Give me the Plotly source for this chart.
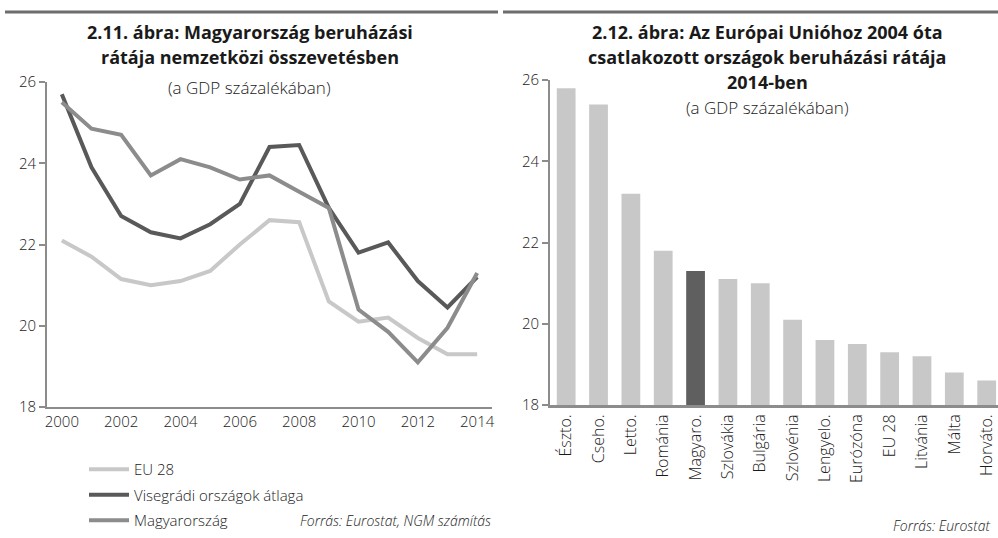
import plotly.graph_objects as go

W, H = 998, 538

years = list(range(2000, 2015))
eu28 = [22.1, 21.7, 21.15, 21.0, 21.1, 21.35, 22.0, 22.6, 22.55, 20.6, 20.1, 20.2, 19.7, 19.3, 19.3]
visegrad = [25.7, 23.9, 22.7, 22.3, 22.15, 22.5, 23.0, 24.4, 24.45, 22.9, 21.8, 22.05, 21.1, 20.45, 21.2]
hungary = [25.5, 24.85, 24.7, 23.7, 24.1, 23.9, 23.6, 23.7, 23.3, 22.9, 20.4, 19.85, 19.1, 19.95, 21.3]

countries = ["Észto.", "Cseho.", "Letto.", "Románia", "Magyaro.", "Szlovákia", "Bulgária",
             "Szlovénia", "Lengyelo.", "Eurózóna", "EU 28", "Litvánia", "Málta", "Horváto."]
rates_2014 = [25.8, 25.4, 23.2, 21.8, 21.3, 21.1, 21.0, 20.1, 19.6, 19.5, 19.3, 19.2, 18.8, 18.6]

year_ticks = [2000, 2002, 2004, 2006, 2008, 2010, 2012, 2014]
y_ticks = [18, 20, 22, 24, 26]

FONT = "Open Sans"
AX = "#8c8c8c"
TXT = "#1a1a1a"

def px_x(p):
    return p / W

def px_y(p):
    return 1 - p / H

fig = go.Figure()

line_styles = [("EU 28", eu28, "#c8c8c8"),
               ("Visegrádi országok átlaga", visegrad, "#595959"),
               ("Magyarország", hungary, "#8c8c8c")]
for i, (name, vals, col) in enumerate(line_styles):
    fig.add_trace(go.Scatter(x=years, y=vals, name=name, mode="lines",
                             line=dict(color=col, width=4), legendgroup=str(i),
                             xaxis="x", yaxis="y"))

bar_colors = ["#5f5f5f" if c == "Magyaro." else "#c8c8c8" for c in countries]
fig.add_trace(go.Bar(x=countries, y=rates_2014, marker=dict(color=bar_colors, line=dict(width=0)),
                     showlegend=False, xaxis="x2", yaxis="y2"))

tickfont = dict(size=15, family=FONT, color=TXT, weight=300)

fig.update_layout(
    width=W, height=H, autosize=False,
    margin=dict(l=0, r=0, t=0, b=0, autoexpand=False),
    paper_bgcolor="white", plot_bgcolor="white",
    font=dict(family=FONT, color=TXT),
    bargap=0.42,
    xaxis=dict(domain=[px_x(47), px_x(492)], range=[1999.5, 2014.5], tickvals=year_ticks,
               showgrid=False, zeroline=False, showline=True, linecolor=AX, linewidth=2,
               ticks="", tickfont=tickfont, anchor="y", automargin=False),
    yaxis=dict(domain=[px_y(407), px_y(82)], range=[18, 26], tickvals=y_ticks,
               showgrid=False, zeroline=False, showline=True, linecolor=AX, linewidth=2,
               ticks="outside", ticklen=6, tickcolor=AX, tickwidth=2,
               tickfont=tickfont, anchor="x", automargin=False),
    xaxis2=dict(domain=[px_x(550), 1.0], range=[-0.5, 13.35], type="category",
                showgrid=False, zeroline=False, showline=True, linecolor=AX, linewidth=3,
                ticks="", tickangle=-90, tickfont=dict(size=16, family=FONT, color=TXT, weight=300),
                anchor="y2", automargin=False),
    yaxis2=dict(domain=[px_y(405), px_y(80)], range=[18, 26], tickvals=y_ticks,
                showgrid=False, zeroline=False, showline=True, linecolor=AX, linewidth=2,
                ticks="outside", ticklen=6, tickcolor=AX, tickwidth=2,
                tickfont=tickfont, anchor="x2", automargin=False),
    legend=dict(x=px_x(84), y=px_y(453), xanchor="left", yanchor="top",
                font=dict(size=15, family=FONT, color=TXT, weight=300),
                bgcolor="rgba(0,0,0,0)", tracegroupgap=3,
                traceorder="grouped", itemwidth=40),
    showlegend=True,
)

# top rules
fig.add_shape(type="line", xref="paper", yref="paper", x0=px_x(5), x1=px_x(498),
              y0=px_y(12), y1=px_y(12), line=dict(color="#6d6d6d", width=3))
fig.add_shape(type="line", xref="paper", yref="paper", x0=px_x(503), x1=1.0,
              y0=px_y(12), y1=px_y(12), line=dict(color="#6d6d6d", width=3))

def txt(x, y, s, size, bold=False, italic=False, anchor="center", weight=None):
    if bold:
        s = "<b>" + s + "</b>"
    if italic:
        s = "<i>" + s + "</i>"
    f = dict(size=size, family=FONT, color=TXT)
    if weight:
        f["weight"] = weight
    fig.add_annotation(x=px_x(x), y=px_y(y), xref="paper", yref="paper", text=s,
                       showarrow=False, xanchor=anchor, yanchor="middle", font=f)

txt(250, 32, "2.11. ábra: Magyarország beruházási", 18, bold=True)
txt(250, 57, "rátája nemzetközi összevetésben", 18, bold=True)
txt(250, 87, "(a GDP százalékában)", 17, weight=300)

txt(767, 32, "2.12. ábra: Az Európai Unióhoz 2004 óta", 18, bold=True)
txt(767, 57, "csatlakozott országok beruházási rátája", 18, bold=True)
txt(767, 82, "2014-ben", 18, bold=True)
txt(767, 108, "(a GDP százalékában)", 17, weight=300)

txt(493, 520, "Forrás: Eurostat, NGM számítás", 14, italic=True, anchor="right", weight=300)
txt(993, 525, "Forrás: Eurostat", 14, italic=True, anchor="right", weight=300)

fig.write_html("out.html", config={"displayModeBar": False},
               post_script="document.body.style.margin='0';")
